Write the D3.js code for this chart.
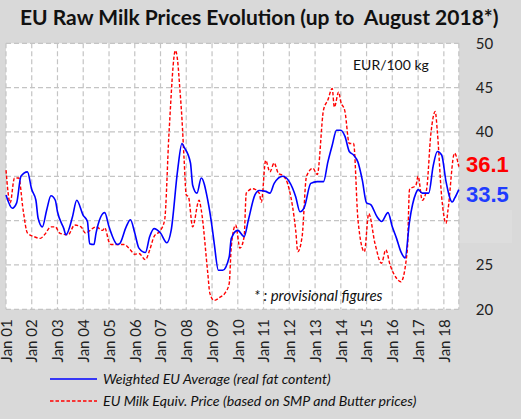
<!DOCTYPE html>
<html>
<head>
<meta charset="utf-8">
<script src="https://cdn.jsdelivr.net/npm/d3@7"></script>
<style>
  body { margin: 0; background: #d9d9d9; }
  svg { display: block; font-family: Lato, "Open Sans", sans-serif; }
</style>
</head>
<body>
<div id="chart"></div>
<script>
// weighted EU average (real fat content)
const avgDates = ["2001-01","2001-04","2001-06","2001-08","2001-11","2002-01","2002-03","2002-04","2002-06","2002-08","2002-10","2002-12",
  "2003-01","2003-04","2003-05","2003-08","2003-10","2004-01","2004-03","2004-04","2004-06","2004-07","2004-11","2005-01",
  "2005-05","2005-06","2005-09","2005-11","2006-01","2006-03","2006-06","2006-08","2006-10","2007-01","2007-04","2007-06",
  "2007-09","2007-11","2007-12","2008-03","2008-04","2008-06","2008-08","2008-11","2009-01","2009-02","2009-04","2009-06",
  "2009-09","2009-10","2010-01","2010-04","2010-06","2010-09","2010-11","2011-02","2011-04","2011-06","2011-10","2012-01",
  "2012-04","2012-06","2012-08","2012-11","2013-02","2013-05","2013-07","2013-09","2013-11","2014-01","2014-03","2014-05",
  "2014-07","2014-09","2014-11","2015-01","2015-03","2015-06","2015-08","2015-11","2016-01","2016-03","2016-05","2016-07",
  "2016-09","2016-12","2017-01","2017-03","2017-06","2017-08","2017-10","2017-12","2018-02","2018-05","2018-06","2018-08"];
const avgValues = [32.9,31.4,32.0,35.0,35.5,33.5,32.3,30.3,29.3,31.2,32.8,32.3,
  31.0,29.1,28.4,30.4,32.3,30.6,29.9,27.4,27.3,28.6,30.9,29.3,
  27.3,27.4,29.3,30.1,28.6,26.9,26.4,28.2,29.1,28.6,27.5,28.9,
  35.7,38.7,38.3,36.5,34.0,33.1,34.8,32.3,29.3,27.4,24.4,24.4,
  25.9,28.0,28.9,28.2,30.1,32.9,33.4,33.3,33.1,34.2,35.0,34.4,
  32.7,31.0,31.5,34.2,34.4,34.4,36.6,38.5,40.2,40.2,39.5,37.8,
  37.4,36.6,34.6,32.0,31.8,30.4,29.9,30.9,29.3,28.0,26.5,25.8,
  29.9,33.1,33.5,33.1,33.1,36.1,37.8,37.4,34.4,32.1,32.5,33.5];

// EU milk equivalent price (SMP + butter)
const equivDates = ["2001-01","2001-03","2001-05","2001-07","2001-09","2001-11","2002-02","2002-05","2002-07","2002-10","2002-12",
  "2003-02","2003-06","2003-09","2003-12","2004-02","2004-07","2004-10","2004-11","2005-01","2005-02","2005-08","2005-11",
  "2006-01","2006-03","2006-06","2006-08","2006-10","2007-01","2007-03","2007-05","2007-08","2007-09","2007-10","2007-11",
  "2007-12","2008-01","2008-02","2008-04","2008-07","2008-08","2008-11","2008-12","2009-02","2009-05","2009-07","2009-09",
  "2009-10","2009-12","2010-02","2010-04","2010-05","2010-08","2010-11","2010-12","2011-02","2011-04","2011-06","2011-08",
  "2011-10","2012-01","2012-04","2012-05","2012-07","2012-09","2012-12","2013-02","2013-05","2013-07","2013-09","2013-10",
  "2013-12","2014-01","2014-03","2014-05","2014-07","2014-09","2014-12","2015-02","2015-05","2015-08","2015-10","2015-12",
  "2016-03","2016-05","2016-08","2016-09","2016-12","2017-01","2017-03","2017-05","2017-07","2017-09","2017-10","2017-12",
  "2018-02","2018-03","2018-06","2018-08"];
const equivValues = [35.7,32.0,34.8,34.8,31.2,28.6,28.2,28.0,28.4,29.3,29.3,
  28.6,28.4,29.5,29.3,28.6,29.3,28.9,29.2,27.6,27.3,27.3,26.7,
  26.2,26.3,25.6,26.7,28.2,28.9,30.1,39.8,49.2,48.0,45.0,41.5,
  37.0,32.9,32.7,29.3,32.3,31.2,24.1,21.8,21.0,21.4,21.8,22.9,
  27.1,29.5,26.9,28.2,33.1,33.6,33.1,32.1,36.8,35.5,36.5,35.3,
  35.1,33.5,28.9,26.5,28.2,35.0,35.9,35.2,42.5,43.6,44.9,42.8,
  44.5,43.4,42.3,38.7,38.7,30.1,26.5,30.8,27.4,25.2,26.7,25.0,
  23.5,23.1,26.7,33.5,34.0,35.0,32.3,33.5,39.8,42.3,40.0,32.7,
  29.7,31.2,37.6,36.1];

const yTicks = [20, 25, 40, 45, 50];
const yGrid = [20, 25, 30, 35, 40, 45, 50];
const lastAvg = "33.5";
const lastEquiv = "36.1";

const width = 521, height = 419;
const parse = d3.timeParse("%Y-%m");

const svg = d3.select("#chart").append("svg")
    .attr("width", width)
    .attr("height", height);

svg.append("rect").attr("width", width).attr("height", height).attr("fill", "#d9d9d9");

const x = d3.scaleTime()
    .domain([parse("2001-01"), parse("2018-08")])
    .range([6, 458.8]);
const y = d3.scaleLinear()
    .domain([20, 50])
    .range([309.3, 43.3]);

// plot area
svg.append("rect")
    .attr("x", x.range()[0]).attr("y", y(50))
    .attr("width", x.range()[1] - x.range()[0])
    .attr("height", y(20) - y(50))
    .attr("fill", "#fff");

const gridCol = "#c4c4c4";
const years = d3.timeYear.range(parse("2001-01"), parse("2018-09"));

svg.append("g").selectAll("line")
    .data(yGrid)
    .join("line")
    .attr("x1", x.range()[0]).attr("x2", x.range()[1])
    .attr("y1", d => y(d)).attr("y2", d => y(d))
    .attr("stroke", gridCol).attr("stroke-width", 1.2)
    .attr("stroke-dasharray", "5,3");

svg.append("g").selectAll("line")
    .data(years.concat([parse("2018-08")]))
    .join("line")
    .attr("x1", d => x(d)).attr("x2", d => x(d))
    .attr("y1", y(50)).attr("y2", y(20))
    .attr("stroke", gridCol).attr("stroke-width", 1.2)
    .attr("stroke-dasharray", "5,3");

// lines
const line = d3.line()
    .x(d => x(d.date))
    .y(d => y(d.value))
    .curve(d3.curveMonotoneX);

const avgData = avgDates.map((d, i) => ({ date: parse(d), value: avgValues[i] }));
const equivData = equivDates.map((d, i) => ({ date: parse(d), value: equivValues[i] }));

svg.append("path")
    .datum(equivData)
    .attr("d", line)
    .attr("fill", "none")
    .attr("stroke", "#ff0000")
    .attr("stroke-width", 1.4)
    .attr("stroke-dasharray", "3.5,2");

svg.append("path")
    .datum(avgData)
    .attr("d", line)
    .attr("fill", "none")
    .attr("stroke", "#0000ff")
    .attr("stroke-width", 1.6);

// right axis
const yAxis = svg.append("g")
    .attr("transform", `translate(${x.range()[1]},0)`)
    .call(d3.axisRight(y).tickValues(yTicks).tickSize(0).tickPadding(17));
yAxis.select(".domain").remove();
yAxis.selectAll("text")
    .attr("font-family", "Lato, sans-serif")
    .attr("font-size", 15)
    .attr("fill", "#222");

// bottom axis, rotated labels
const xAxis = svg.append("g")
    .attr("transform", `translate(0,${y(20)})`)
    .call(d3.axisBottom(x).tickValues(years).tickFormat(d3.timeFormat("Jan %y")).tickSize(0));
xAxis.select(".domain").remove();
xAxis.selectAll("text")
    .attr("font-family", "Lato, sans-serif")
    .attr("font-size", 15)
    .attr("fill", "#222")
    .attr("text-anchor", "end")
    .attr("transform", "rotate(-90)")
    .attr("x", -10)
    .attr("y", 0)
    .attr("dy", "0.35em");

// title
svg.append("text")
    .attr("x", 20).attr("y", 25)
    .attr("font-size", 21)
    .attr("font-weight", "bold")
    .attr("fill", "#111")
    .style("white-space", "pre")
    .text("EU Raw Milk Prices Evolution (up to  August 2018*)");

svg.append("text")
    .attr("x", 353).attr("y", 70)
    .attr("font-size", 14)
    .attr("fill", "#111")
    .text("EUR/100 kg");

svg.append("text")
    .attr("x", 254).attr("y", 301)
    .attr("font-size", 15)
    .attr("font-style", "italic")
    .attr("fill", "#111")
    .text("* : provisional figures");

// last values
svg.append("rect")
    .attr("x", 460).attr("y", 210).attr("width", 52).attr("height", 33)
    .attr("fill", "#dddddd");

svg.append("text")
    .attr("x", 466).attr("y", 171.5)
    .attr("font-family", "'Liberation Sans', Arial, sans-serif")
    .attr("font-size", 22).attr("font-weight", "bold")
    .attr("fill", "#ff0000")
    .text(lastEquiv);

svg.append("text")
    .attr("x", 466).attr("y", 201.5)
    .attr("font-family", "'Liberation Sans', Arial, sans-serif")
    .attr("font-size", 22).attr("font-weight", "bold")
    .attr("fill", "#1f3cff")
    .text(lastAvg);

// legend
const legend = svg.append("g");
legend.append("line")
    .attr("x1", 50).attr("x2", 97).attr("y1", 379).attr("y2", 379)
    .attr("stroke", "#0000ff").attr("stroke-width", 1.6);
legend.append("text")
    .attr("x", 103).attr("y", 383.5)
    .attr("font-size", 14.2).attr("font-style", "italic").attr("fill", "#111")
    .text("Weighted EU Average (real fat content)");
legend.append("line")
    .attr("x1", 50).attr("x2", 97).attr("y1", 401).attr("y2", 401)
    .attr("stroke", "#ff0000").attr("stroke-width", 1.4)
    .attr("stroke-dasharray", "3.5,2");
legend.append("text")
    .attr("x", 103).attr("y", 405.5)
    .attr("font-size", 14.2).attr("font-style", "italic").attr("fill", "#111")
    .text("EU Milk Equiv. Price (based on SMP and Butter prices)");
</script>
</body>
</html>
